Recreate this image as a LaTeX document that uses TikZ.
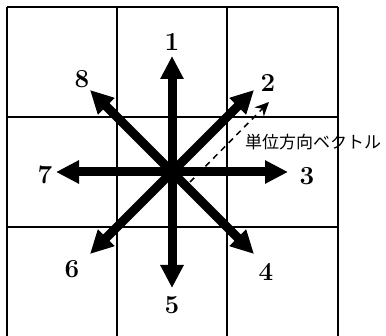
\documentclass[tikz,border=0pt]{standalone}
\usepackage{fontspec}
\newfontfamily\jpfont{Noto Sans CJK JP}
\usetikzlibrary{arrows.meta}
\begin{document}
\begin{tikzpicture}[x=1pt,y=-1pt,
  gridline/.style={line width=1.4pt},
  bigarrow/.style={line width=9pt,-{Triangle[width=22pt,length=23pt]}},
  unitarrow/.style={line width=1.5pt,dash pattern=on 6pt off 5pt,-{Stealth[width=13pt,length=14pt]}},
  num/.style={font=\bfseries\fontsize{26}{26}\selectfont,inner sep=0pt},
  jp/.style={font=\jpfont\fontsize{17}{17}\selectfont,inner sep=0pt,anchor=west}]
\clip (0,0) rectangle (386,336);
\fill[white] (0,0) rectangle (386,336);
% grid
\foreach \v in {7,117,227,338} {
  \draw[gridline] (\v,7) -- (\v,345);
  \draw[gridline] (7,\v) -- (338,\v);
}
\coordinate (c) at (172,172);
\coordinate (t1) at (172,56);
\coordinate (t2) at (254,90);
\coordinate (t3) at (288,172);
\coordinate (t4) at (254,254);
\coordinate (t5) at (172,288);
\coordinate (t6) at (90,254);
\coordinate (t7) at (56,172);
\coordinate (t8) at (90,90);
\foreach \i in {1,...,8} \draw[bigarrow] (c) -- (t\i);
\fill (c) circle (6pt);
% unit vector
\coordinate (us) at (190,182);
\coordinate (ue) at (269,102);
\draw[unitarrow] (us) -- (ue);
% labels
\node[num] (n1) at (172,42) {1};
\node[num] (n2) at (268,83) {2};
\node[num] (n3) at (307,176) {3};
\node[num] (n4) at (266,272) {4};
\node[num] (n5) at (172,305) {5};
\node[num] (n6) at (72,269) {6};
\node[num] (n7) at (45,175) {7};
\node[num] (n8) at (82,79) {8};
\node[jp] (lab) at (245,142) {単位方向ベクトル};
\end{tikzpicture}
\end{document}
